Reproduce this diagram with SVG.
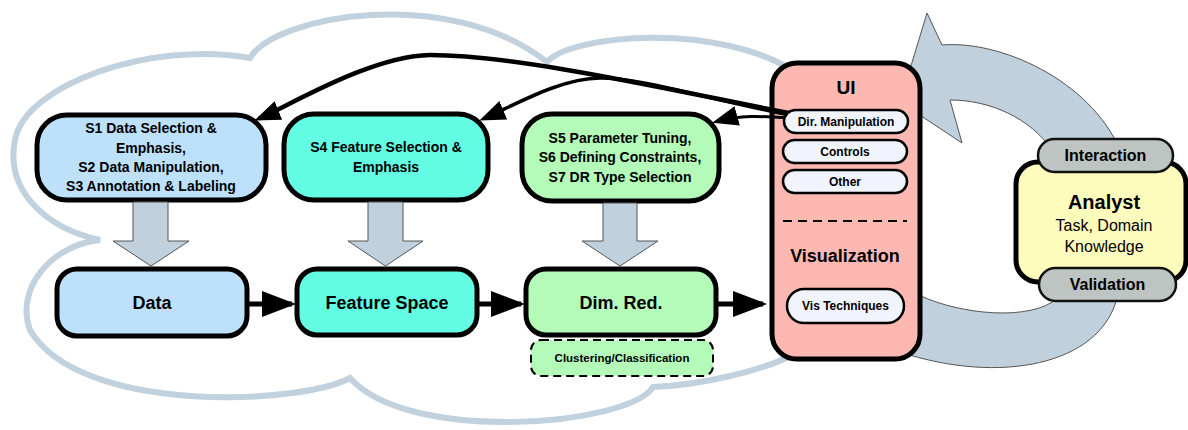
<svg xmlns="http://www.w3.org/2000/svg" width="1188" height="430" viewBox="0 0 1188 430">
<style>
.box{stroke:#000;stroke-width:5}
.pill{fill:#f1f3fd;stroke:#000;stroke-width:2.5}
.gpill{fill:#bdc4c1;stroke:#111;stroke-width:2.5}
.t{font-family:"Liberation Sans",Arial,sans-serif;font-weight:bold;text-anchor:middle;fill:#000}
.r{font-family:"Liberation Sans",Arial,sans-serif;text-anchor:middle;fill:#000}
.blk{fill:#c0d0dc;stroke:#555;stroke-width:1}
.ln{fill:none;stroke:#000}
</style>
<defs>
<marker id="ah" markerUnits="userSpaceOnUse" markerWidth="26" markerHeight="20" refX="21" refY="10" orient="auto" viewBox="0 0 26 20">
<path d="M0,0 L26,10 L0,20 z" fill="#000"/>
</marker>
<marker id="hh" markerUnits="userSpaceOnUse" markerWidth="34" markerHeight="26" refX="30" refY="13" orient="auto" viewBox="0 0 34 26">
<path d="M0,0 L34,13 L0,26 z" fill="#000"/>
</marker>
</defs>
<g id="cloud">
<path d="M100,240 C45,228 5,190 15,140 C25,85 150,40 250,58 C275,15 450,-15 547,62 C570,35 720,20 800,75 L800,352 C760,372 700,385 653,387 C630,425 410,445 350,378 C300,405 80,415 30,330 C15,290 50,245 100,240 Z" fill="none" stroke="#c1d1dd" stroke-width="6"/>
</g>
<g id="cycle">
<path d="M900,102 L927,13 L942,45 C1000,40 1090,80 1120,150 L1052,150 C1030,118 990,100 950,100 L962,143 Z" class="blk" stroke-width="0.8"/>
<path d="M900,290 L921,296 C960,314 1030,322 1058,298 L1117,298 C1100,365 1000,385 900,352 Z" class="blk" stroke-width="0.8"/>
</g>
<g id="s1">
<rect class="box" x="37" y="115" width="229" height="85" rx="30" fill="#bee1fb"/>
<text class="t" font-size="14" x="151" y="133">S1 Data Selection &amp;</text>
<text class="t" font-size="14" x="151" y="153">Emphasis,</text>
<text class="t" font-size="14" x="151" y="172">S2 Data Manipulation,</text>
<text class="t" font-size="14" x="151" y="191">S3 Annotation &amp; Labeling</text>
</g>
<g id="s4">
<rect class="box" x="284" y="114" width="204" height="86" rx="30" fill="#62fde3"/>
<text class="t" font-size="14" x="386" y="152">S4 Feature Selection &amp;</text>
<text class="t" font-size="14" x="386" y="172">Emphasis</text>
</g>
<g id="s5">
<rect class="box" x="522" y="114" width="197" height="87" rx="30" fill="#b4fbb9"/>
<text class="t" font-size="14" x="620" y="143">S5 Parameter Tuning,</text>
<text class="t" font-size="14" x="620" y="162">S6 Defining Constraints,</text>
<text class="t" font-size="14" x="620" y="182">S7 DR Type Selection</text>
</g>
<g id="data">
<rect class="box" x="57" y="269" width="190" height="67" rx="20" fill="#bee1fb"/>
<text class="t" font-size="18" x="152" y="309">Data</text>
</g>
<g id="feature">
<rect class="box" x="297" y="269" width="180" height="66" rx="20" fill="#62fde3"/>
<text class="t" font-size="18" x="387" y="309">Feature Space</text>
</g>
<g id="dimred">
<rect class="box" x="526" y="269" width="190" height="66" rx="20" fill="#b4fbb9"/>
<text class="t" font-size="18" x="621" y="309">Dim. Red.</text>
</g>
<g id="clustering">
<rect x="531" y="340" width="182" height="36" rx="10" fill="#b4fbb9" stroke="#000" stroke-width="2" stroke-dasharray="8,5"/>
<text class="t" font-size="11.5" x="622" y="362">Clustering/Classification</text>
</g>
<g id="ui">
<rect class="box" x="772" y="63" width="148" height="296" rx="25" fill="#fdb9b1" stroke-width="6"/>
<text class="t" font-size="19" x="846" y="94">UI</text>
<line x1="783" y1="221" x2="907" y2="221" stroke="#000" stroke-width="2" stroke-dasharray="9,6"/>
<text class="t" font-size="18" x="845" y="262">Visualization</text>
</g>
<g id="analyst">
<rect class="box" x="1016" y="162" width="170" height="120" rx="22" fill="#fefcbd" stroke-width="6"/>
<text class="t" font-size="20" x="1104" y="209">Analyst</text>
<text class="r" font-size="16" x="1104" y="231">Task, Domain</text>
<text class="r" font-size="16" x="1104" y="252">Knowledge</text>
</g>
<g id="interaction">
<rect class="gpill" x="1038" y="139" width="135" height="33" rx="16.5"/>
<text class="t" font-size="16" x="1105.5" y="161">Interaction</text>
</g>
<g id="validation">
<rect class="gpill" x="1039" y="268" width="137" height="33" rx="16.5"/>
<text class="t" font-size="16" x="1107.5" y="290">Validation</text>
</g>
<g id="connectors">
<polygon class="blk" points="133,202 168,202 168,241 189,241 151,266 113,241 133,241"/>
<polygon class="blk" points="368,202 403,202 403,241 423,241 385.5,266 348,241 368,241"/>
<polygon class="blk" points="603,203 637,203 637,241 658,241 620,266 582,241 603,241"/>
<line class="ln" x1="249" y1="304" x2="292" y2="304" stroke-width="5" marker-end="url(#hh)"/>
<line class="ln" x1="479" y1="304" x2="521" y2="304" stroke-width="5" marker-end="url(#hh)"/>
<line class="ln" x1="718" y1="304" x2="763" y2="304" stroke-width="5" marker-end="url(#hh)"/>
<path class="ln" stroke-width="4.5" d="M789,113 C680,92 520,55 430,55 C370,56 287,107 259,118.5" marker-end="url(#ah)"/>
<path class="ln" stroke-width="3.5" d="M789,115 C700,97 640,78 600,78 C560,78 511,107 484,118.5" marker-end="url(#ah)"/>
<path class="ln" stroke-width="3" d="M789,118 C760,116 740,115 717,121.5" marker-end="url(#ah)"/>
</g>
<g id="dirmanip">
<rect class="pill" x="784" y="110" width="124" height="23" rx="11.5"/>
<text class="t" font-size="12" x="846" y="126">Dir. Manipulation</text>
</g>
<g id="controls">
<rect class="pill" x="783" y="140" width="124" height="23" rx="11.5"/>
<text class="t" font-size="12" x="845" y="156">Controls</text>
</g>
<g id="other">
<rect class="pill" x="783" y="170" width="124" height="23" rx="11.5"/>
<text class="t" font-size="12" x="845" y="186">Other</text>
</g>
<g id="vistech">
<rect class="pill" x="787" y="289" width="117" height="34" rx="17"/>
<text class="t" font-size="12" x="845.5" y="310">Vis Techniques</text>
</g>
</svg>
